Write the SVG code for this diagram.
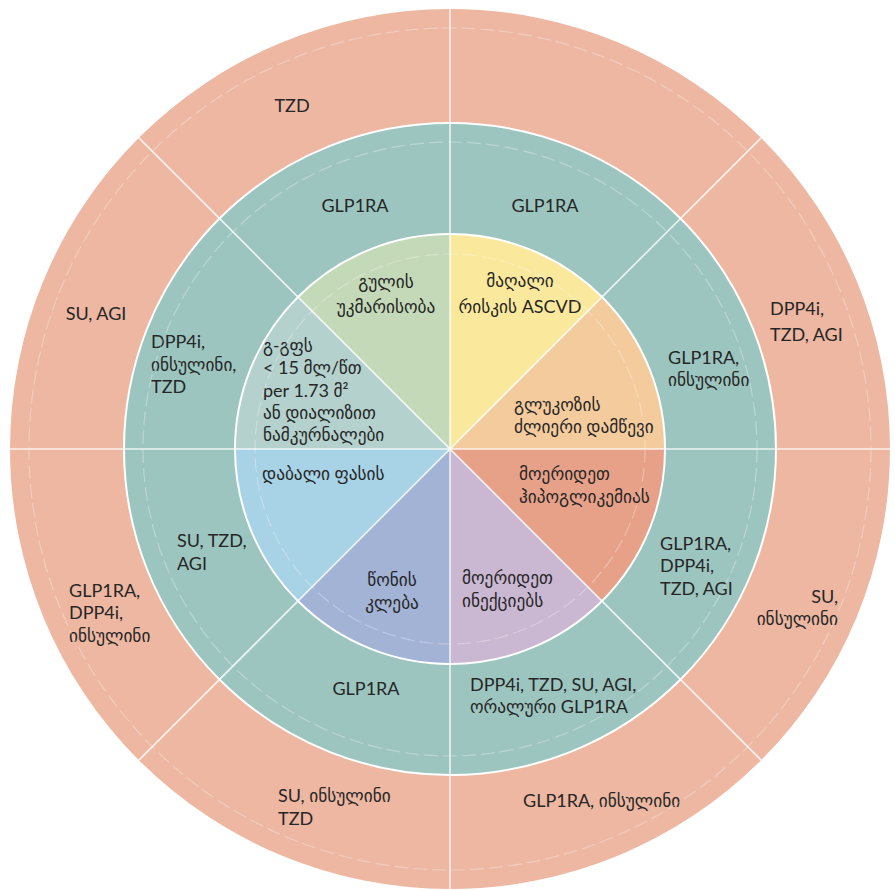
<svg xmlns="http://www.w3.org/2000/svg" width="895" height="890" viewBox="0 0 895 890">
  <style>
    .t { font-family: Lato, "DejaVu Sans", sans-serif; font-size: 18px; fill: #262626; }
    .g { font-size: 17.3px; }
    .mid { text-anchor: middle; }
    .end { text-anchor: end; }
    .outer { fill: #EDB7A2; }
    .ring { fill: #9DC5BF; }
    .edge { fill: none; stroke: #FFFFFF; stroke-width: 2; }
    .dash { fill: none; stroke: #FFFFFF; stroke-width: 1.2; stroke-opacity: 0.3; stroke-dasharray: 14 5; }
    .ray { stroke: #FFFFFF; stroke-width: 1.6; stroke-opacity: 0.8; }
  </style>

  <rect width="895" height="890" fill="#FFFFFF"/>

  <!-- outer ring: eight 45-degree sectors, centre (450,449), r 440 / 326 -->
  <g id="outer-tzd">
    <path class="outer" d="M450,9 A440,440 0 0 0 138.87,137.87 L219.48,218.48 A326,326 0 0 1 450,123 Z"/>
    <text class="t mid" x="292" y="112">TZD</text>
  </g>
  <g id="outer-su-agi">
    <path class="outer" d="M138.87,137.87 A440,440 0 0 0 10,449 L124,449 A326,326 0 0 1 219.48,218.48 Z"/>
    <text class="t mid" x="96" y="320">SU, AGI</text>
  </g>
  <g id="outer-glp1ra-dpp4i-insulin">
    <path class="outer" d="M10,449 A440,440 0 0 0 138.87,760.13 L219.48,679.52 A326,326 0 0 1 124,449 Z"/>
    <text class="t" x="69" y="597">GLP1RA,</text>
    <text class="t" x="69" y="619">DPP4i,</text>
    <text class="t g" x="69" y="642">ინსულინი</text>
  </g>
  <g id="outer-su-insulin-tzd">
    <path class="outer" d="M138.87,760.13 A440,440 0 0 0 450,889 L450,775 A326,326 0 0 1 219.48,679.52 Z"/>
    <text class="t" x="278" y="802">SU, <tspan class="g">ინსულინი</tspan></text>
    <text class="t" x="278" y="825">TZD</text>
  </g>
  <g id="outer-glp1ra-insulin">
    <path class="outer" d="M450,889 A440,440 0 0 0 761.13,760.13 L680.52,679.52 A326,326 0 0 1 450,775 Z"/>
    <text class="t" x="523" y="807">GLP1RA, <tspan class="g">ინსულინი</tspan></text>
  </g>
  <g id="outer-su-insulin">
    <path class="outer" d="M761.13,760.13 A440,440 0 0 0 890,449 L776,449 A326,326 0 0 1 680.52,679.52 Z"/>
    <text class="t end" x="838" y="603">SU,</text>
    <text class="t g end" x="838" y="625">ინსულინი</text>
  </g>
  <g id="outer-dpp4i-tzd-agi">
    <path class="outer" d="M890,449 A440,440 0 0 0 761.13,137.87 L680.52,218.48 A326,326 0 0 1 776,449 Z"/>
    <text class="t" x="770" y="315">DPP4i,</text>
    <text class="t" x="770" y="341">TZD, AGI</text>
  </g>
  <g id="outer-blank">
    <path class="outer" d="M761.13,137.87 A440,440 0 0 0 450,9 L450,123 A326,326 0 0 1 680.52,218.48 Z"/>
  </g>

  <!-- middle ring: r 326 / 215 -->
  <g id="ring-glp1ra-a">
    <path class="ring" d="M680.52,218.48 A326,326 0 0 0 450,123 L450,234 A215,215 0 0 1 602.03,296.97 Z"/>
    <text class="t mid" x="545" y="212">GLP1RA</text>
  </g>
  <g id="ring-glp1ra-b">
    <path class="ring" d="M450,123 A326,326 0 0 0 219.48,218.48 L297.97,296.97 A215,215 0 0 1 450,234 Z"/>
    <text class="t mid" x="355" y="212">GLP1RA</text>
  </g>
  <g id="ring-dpp4i-insulin-tzd">
    <path class="ring" d="M219.48,218.48 A326,326 0 0 0 124,449 L235,449 A215,215 0 0 1 297.97,296.97 Z"/>
    <text class="t" x="151" y="348">DPP4i,</text>
    <text class="t" x="151" y="371"><tspan class="g">ინსულინი</tspan>,</text>
    <text class="t" x="151" y="393">TZD</text>
  </g>
  <g id="ring-su-tzd-agi">
    <path class="ring" d="M124,449 A326,326 0 0 0 219.48,679.52 L297.97,601.03 A215,215 0 0 1 235,449 Z"/>
    <text class="t" x="177" y="547">SU, TZD,</text>
    <text class="t" x="177" y="570">AGI</text>
  </g>
  <g id="ring-glp1ra-c">
    <path class="ring" d="M219.48,679.52 A326,326 0 0 0 450,775 L450,664 A215,215 0 0 1 297.97,601.03 Z"/>
    <text class="t mid" x="366" y="695">GLP1RA</text>
  </g>
  <g id="ring-oral">
    <path class="ring" d="M450,775 A326,326 0 0 0 680.52,679.52 L602.03,601.03 A215,215 0 0 1 450,664 Z"/>
    <text class="t" x="470" y="691">DPP4i, TZD, SU, AGI,</text>
    <text class="t" x="470" y="713"><tspan class="g">ორალური</tspan> GLP1RA</text>
  </g>
  <g id="ring-glp1ra-dpp4i-tzd-agi">
    <path class="ring" d="M680.52,679.52 A326,326 0 0 0 776,449 L665,449 A215,215 0 0 1 602.03,601.03 Z"/>
    <text class="t" x="660" y="550">GLP1RA,</text>
    <text class="t" x="660" y="572">DPP4i,</text>
    <text class="t" x="660" y="595">TZD, AGI</text>
  </g>
  <g id="ring-glp1ra-insulin">
    <path class="ring" d="M776,449 A326,326 0 0 0 680.52,218.48 L602.03,296.97 A215,215 0 0 1 665,449 Z"/>
    <text class="t" x="668" y="364">GLP1RA,</text>
    <text class="t g" x="668" y="386">ინსულინი</text>
  </g>

  <!-- inner pie: r 215 -->
  <g id="heart-failure">
    <path fill="#C4D9B8" d="M450,449 L450,234 A215,215 0 0 0 297.97,296.97 Z"/>
    <text class="t g mid" x="386" y="288">გულის</text>
    <text class="t g mid" x="386" y="313">უკმარისობა</text>
  </g>
  <g id="high-risk-ascvd">
    <path fill="#FAE99C" d="M450,449 L602.03,296.97 A215,215 0 0 0 450,234 Z"/>
    <text class="t g mid" x="520" y="287">მაღალი</text>
    <text class="t mid" x="520" y="313"><tspan class="g">რისკის</tspan> ASCVD</text>
  </g>
  <g id="strong-glucose-lowering">
    <path fill="#F4CB9D" d="M450,449 L665,449 A215,215 0 0 0 602.03,296.97 Z"/>
    <text class="t g" x="514" y="411">გლუკოზის</text>
    <text class="t g" x="514" y="433">ძლიერი დამწევი</text>
  </g>
  <g id="avoid-hypoglycemia">
    <path fill="#E8A189" d="M450,449 L602.03,601.03 A215,215 0 0 0 665,449 Z"/>
    <text class="t g" x="519" y="480">მოერიდეთ</text>
    <text class="t g" x="519" y="503">ჰიპოგლიკემიას</text>
  </g>
  <g id="avoid-injections">
    <path fill="#CAB7D2" d="M450,449 L450,664 A215,215 0 0 0 602.03,601.03 Z"/>
    <text class="t g" x="462" y="584">მოერიდეთ</text>
    <text class="t g" x="462" y="607">ინექციებს</text>
  </g>
  <g id="weight-loss">
    <path fill="#A3B3D6" d="M450,449 L297.97,601.03 A215,215 0 0 0 450,664 Z"/>
    <text class="t g mid" x="392" y="586">წონის</text>
    <text class="t g mid" x="392" y="609">კლება</text>
  </g>
  <g id="low-cost">
    <path fill="#A8D2E5" d="M450,449 L235,449 A215,215 0 0 0 297.97,601.03 Z"/>
    <text class="t g" x="262" y="480">დაბალი ფასის</text>
  </g>
  <g id="egfr">
    <path fill="#B4D1CD" d="M450,449 L297.97,296.97 A215,215 0 0 0 235,449 Z"/>
    <text class="t g" x="263" y="352">გ-გფს</text>
    <text class="t" x="263" y="374">&lt; 15 <tspan class="g">მლ/წთ</tspan></text>
    <text class="t" x="263" y="397">per 1.73 <tspan class="g">მ</tspan>²</text>
    <text class="t g" x="263" y="419">ან დიალიზით</text>
    <text class="t g" x="263" y="441">ნამკურნალები</text>
  </g>

  <!-- dividers: ring borders, soft dashed inner edges, radial rays -->
  <g id="connectors">
    <circle class="dash" cx="450" cy="449" r="421"/>
    <circle class="dash" cx="450" cy="449" r="307"/>
    <circle class="dash" cx="450" cy="449" r="195"/>
    <circle class="edge" cx="450" cy="449" r="326"/>
    <circle class="edge" cx="450" cy="449" r="215"/>
    <line class="ray" x1="450" y1="9" x2="450" y2="889"/>
    <line class="ray" x1="10" y1="449" x2="890" y2="449"/>
    <line class="ray" x1="138.87" y1="137.87" x2="761.13" y2="760.13"/>
    <line class="ray" x1="761.13" y1="137.87" x2="138.87" y2="760.13"/>
  </g>
</svg>
